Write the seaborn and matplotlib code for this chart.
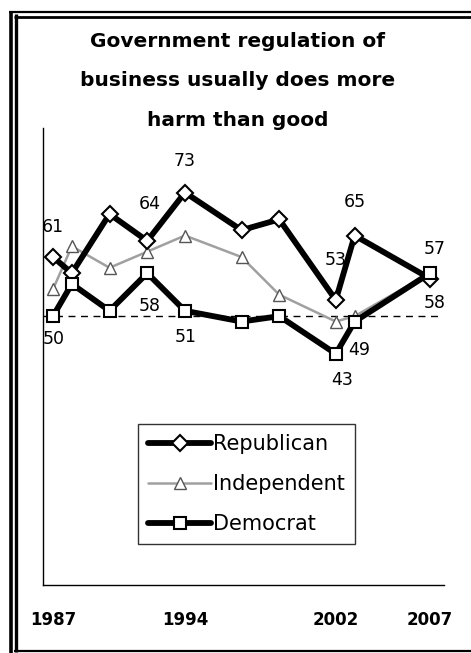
import matplotlib
matplotlib.use("Agg")
import matplotlib.pyplot as plt
import seaborn as sns
import pandas as pd
from matplotlib.lines import Line2D

sns.set_theme(style="white")
plt.rcParams['font.family'] = ['DejaVu Sans']
plt.rcParams['text.color'] = 'black'

years = [1987, 1988, 1990, 1992, 1994, 1997, 1999, 2002, 2003, 2007]
republican = [61, 58, 69, 64, 73, 66, 68, 53, 65, 57]
independent = [55, 63, 59, 62, 65, 61, 54, 49, 50, 58]
democrat = [50, 56, 51, 58, 51, 49, 50, 43, 49, 58]
tick_years = [1987, 1994, 2002, 2007]
title = "Government regulation of\nbusiness usually does more\nharm than good"

W, H = 471, 653
fig = plt.figure(figsize=(W / 100, H / 100), dpi=100)
fig.patch.set_facecolor("white")

def fx(x):
    return x / W

def fy(y):
    return 1 - y / H

ax = fig.add_axes([fx(43), fy(585), fx(444) - fx(43), fy(128) - fy(585)])
ax.set_facecolor("white")

df = pd.DataFrame({"year": years, "Republican": republican,
                   "Independent": independent, "Democrat": democrat})

ax.axhline(50, xmin=0, xmax=0.985, color="black", lw=1.0, ls=(0, (5, 4)), zorder=1)

sns.lineplot(data=df, x="year", y="Independent", ax=ax, color="#a0a0a0", lw=1.8,
             marker="^", markersize=9, markerfacecolor="white",
             markeredgecolor="#555555", markeredgewidth=1.0, zorder=2)
sns.lineplot(data=df, x="year", y="Republican", ax=ax, color="black", lw=4.2,
             marker="D", markersize=8, markerfacecolor="white",
             markeredgecolor="black", markeredgewidth=1.5, zorder=3)
sns.lineplot(data=df, x="year", y="Democrat", ax=ax, color="black", lw=4.2,
             marker="s", markersize=8, markerfacecolor="white",
             markeredgecolor="black", markeredgewidth=1.5, zorder=4)

ax.set_xlim(1986.47, 2007.74)
ax.set_ylim(0, 85)
ax.set_xticks(tick_years)
ax.set_xticklabels([str(t) for t in tick_years], fontsize=12, fontweight="bold",
                   color="black")
ax.tick_params(axis="x", length=0, pad=19, labelcolor="black")
ax.set_yticks([])
ax.set_xlabel("")
ax.set_ylabel("")
for s in ["top", "right"]:
    ax.spines[s].set_visible(False)
for s in ["left", "bottom"]:
    ax.spines[s].set_color("black")
    ax.spines[s].set_linewidth(1.0)

# data labels (offsets in pixels)
rep_labels = {1987: (0, 30), 1992: (2, 37), 1994: (0, 32), 2002: (0, 40), 2003: (0, 34), 2007: (5, 30)}
dem_labels = {1987: (1, -23), 1992: (2, -33), 1994: (1, -26), 2002: (6, -26), 2003: (5, -28), 2007: (5, -30)}
for yr, off in rep_labels.items():
    v = republican[years.index(yr)]
    ax.annotate(str(v), (yr, v), xytext=off, textcoords="offset pixels",
                ha="center", va="center", fontsize=12.5, color="black", zorder=6)
for yr, off in dem_labels.items():
    v = democrat[years.index(yr)]
    ax.annotate(str(v), (yr, v), xytext=off, textcoords="offset pixels",
                ha="center", va="center", fontsize=12.5, color="black", zorder=6)

handles = [
    Line2D([], [], color="black", lw=4.2, marker="D", markersize=8,
           markerfacecolor="white", markeredgecolor="black", markeredgewidth=1.5),
    Line2D([], [], color="#a0a0a0", lw=1.8, marker="^", markersize=9,
           markerfacecolor="white", markeredgecolor="#555555", markeredgewidth=1.0),
    Line2D([], [], color="black", lw=4.2, marker="s", markersize=8,
           markerfacecolor="white", markeredgecolor="black", markeredgewidth=1.5),
]
leg = ax.legend(handles, ["Republican", "Independent", "Democrat"],
                loc="upper left", bbox_to_anchor=((138 - 43) / 401, (585 - 424) / 457),
                frameon=True, fancybox=False, edgecolor="black", fontsize=15,
                handlelength=3.0, handletextpad=0.1, labelspacing=0.95,
                borderpad=0.5, borderaxespad=0, labelcolor="black")
leg.get_frame().set_linewidth(1.0)

fig.text(fx(238), fy(32), title, ha="center", va="top", fontsize=14.5,
         fontweight="bold", linespacing=2.35, color="black")

# outer frame
def fline(x0, y0, x1, y1, lw):
    fig.add_artist(Line2D([fx(x0), fx(x1)], [fy(y0), fy(y1)], color="black",
                          lw=lw, transform=fig.transFigure, solid_capstyle="butt"))

fline(10.7, 11, 10.7, 653, 2.6)
fline(15.5, 14, 15.5, 652, 2.4)
fline(9, 12, 471, 12, 1.6)
fline(14, 16.5, 471, 16.5, 2.0)
fline(14, 651, 471, 651, 1.6)

fig.savefig("out.png", dpi=100, facecolor="white")
